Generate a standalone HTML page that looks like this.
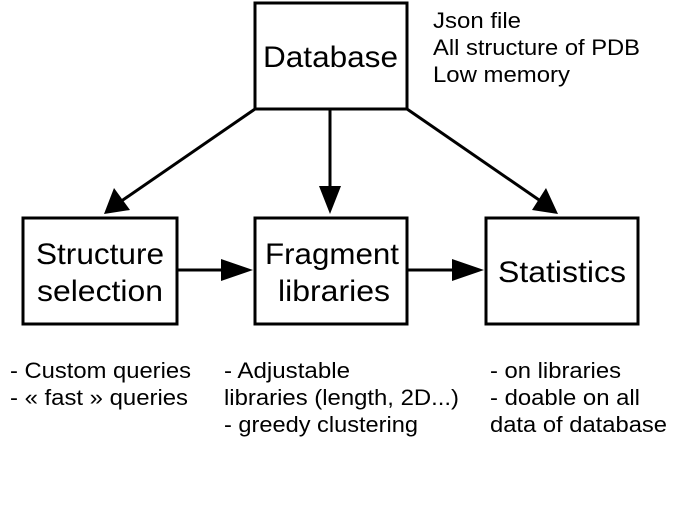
<!DOCTYPE html>
<html><head><style>html,body{margin:0;padding:0;background:#fff}</style></head><body>
<svg width="684" height="522" xmlns="http://www.w3.org/2000/svg" font-family="Liberation Sans, sans-serif">
<rect width="684" height="522" fill="#fff"/>
<g fill="none" stroke="#000" stroke-width="3">
<rect x="255" y="3" width="152" height="106"/>
<rect x="23" y="218" width="154" height="106"/>
<rect x="255" y="218" width="152" height="106"/>
<rect x="486" y="218" width="152" height="106"/>
<line x1="255" y1="109" x2="120" y2="202"/>
<line x1="330" y1="109" x2="330" y2="190"/>
<line x1="407" y1="109" x2="542" y2="202"/>
<line x1="177" y1="270" x2="225" y2="270"/>
<line x1="407" y1="270" x2="457" y2="270"/>
</g>
<g fill="#000">
<polygon points="104,214 114,188 130,210"/>
<polygon points="319,186 341,186 330,214"/>
<polygon points="558,214 532,210 546,188"/>
<polygon points="221,259 253,270 221,281"/>
<polygon points="452,259 484,270 452,281"/>
</g>
<g font-size="30" fill="#000">
<text x="263" y="67" textLength="135" lengthAdjust="spacingAndGlyphs">Database</text>
<text x="36" y="264" textLength="128" lengthAdjust="spacingAndGlyphs">Structure</text>
<text x="37" y="301" textLength="126" lengthAdjust="spacingAndGlyphs">selection</text>
<text x="265" y="264" textLength="134" lengthAdjust="spacingAndGlyphs">Fragment</text>
<text x="278" y="301" textLength="112" lengthAdjust="spacingAndGlyphs">libraries</text>
<text x="498" y="282" textLength="128" lengthAdjust="spacingAndGlyphs">Statistics</text>
</g>
<g font-size="22" fill="#000">
<text x="433" y="28" textLength="88" lengthAdjust="spacingAndGlyphs">Json file</text>
<text x="433" y="55" textLength="207" lengthAdjust="spacingAndGlyphs">All structure of PDB</text>
<text x="433" y="82" textLength="137" lengthAdjust="spacingAndGlyphs">Low memory</text>
<text x="10" y="378" textLength="181" lengthAdjust="spacingAndGlyphs">- Custom queries</text>
<text x="10" y="405" textLength="178" lengthAdjust="spacingAndGlyphs">- « fast » queries</text>
<text x="224" y="378" textLength="126" lengthAdjust="spacingAndGlyphs">- Adjustable</text>
<text x="224" y="405" textLength="235" lengthAdjust="spacingAndGlyphs">libraries (length, 2D...)</text>
<text x="224" y="432" textLength="194" lengthAdjust="spacingAndGlyphs">- greedy clustering</text>
<text x="490" y="378" textLength="131" lengthAdjust="spacingAndGlyphs">- on libraries</text>
<text x="490" y="405" textLength="150" lengthAdjust="spacingAndGlyphs">- doable on all</text>
<text x="490" y="432" textLength="177" lengthAdjust="spacingAndGlyphs">data of database</text>
</g>
</svg>
</body></html>
